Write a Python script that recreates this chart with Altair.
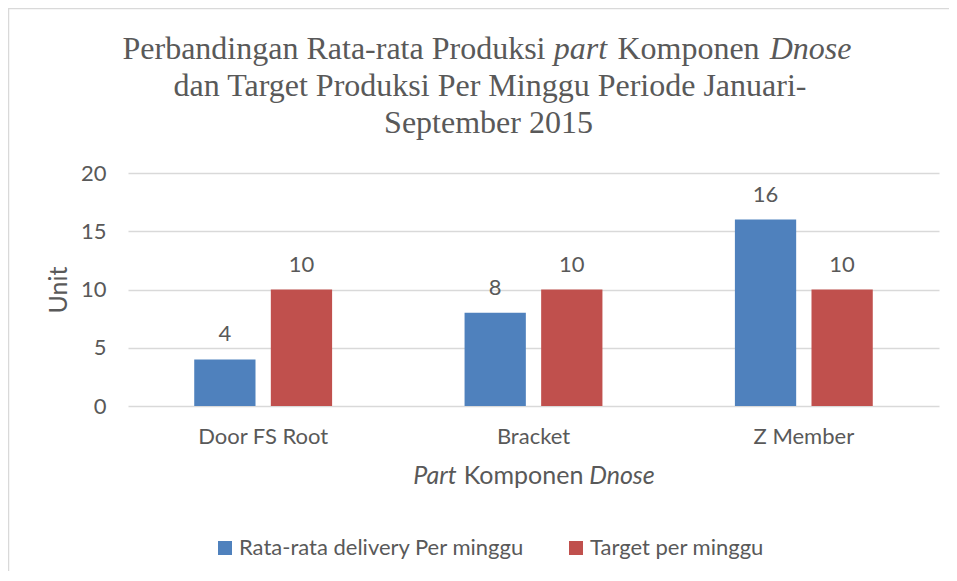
import altair as alt
import pandas as pd

# ---- data ----
categories = ["Door FS Root", "Bracket", "Z Member"]
series = ["Rata-rata delivery Per minggu", "Target per minggu"]
avg_delivery = [4, 8, 16]
target = [10, 10, 10]
y_ticks = [0, 5, 10, 15, 20]

rows = []
for i, c in enumerate(categories):
    rows.append({"part": c, "series": series[0], "unit": avg_delivery[i]})
    rows.append({"part": c, "series": series[1], "unit": target[i]})
df = pd.DataFrame(rows)

colors = ["#4f81bd", "#c0504d"]
GRAY = "#595959"
SANS = "Lato"
SERIF = "Liberation Serif"
W, H = 811, 233
FS = 22

base = alt.Chart(df).encode(
    x=alt.X("part:N", sort=categories,
            scale=alt.Scale(paddingInner=0.49, paddingOuter=0.245),
            axis=alt.Axis(title=None, labelAngle=0, labelFontSize=FS, labelFont=SANS,
                          labelColor=GRAY, labelPadding=20, domain=False, ticks=False,
                          grid=False)),
    xOffset=alt.XOffset("series:N", sort=series,
                        scale=alt.Scale(paddingInner=0.2, paddingOuter=0)),
    y=alt.Y("unit:Q", scale=alt.Scale(domain=[0, 20], nice=False),
            axis=alt.Axis(values=y_ticks, title="Unit", titleFont=SANS, titleFontSize=25,
                          titleFontWeight="normal", titleColor=GRAY, titlePadding=9,
                          labelFont=SANS, labelFontSize=FS, labelColor=GRAY,
                          labelPadding=22, domain=False, ticks=False,
                          gridColor="#d9d9d9", gridWidth=1.5)),
)

bars = base.mark_bar().encode(
    color=alt.Color("series:N", sort=series,
                    scale=alt.Scale(domain=series, range=colors),
                    legend=alt.Legend(title=None, orient="none", legendX=86, legendY=364,
                                      direction="horizontal", symbolType="square",
                                      symbolSize=196, symbolStrokeWidth=0,
                                      labelFont=SANS, labelFontSize=FS, labelColor=GRAY,
                                      labelOffset=3, labelLimit=0, columnPadding=40,
                                      padding=0))
)

labels = base.mark_text(dy=-18, baseline="alphabetic", fontSize=FS, font=SANS,
                        color=GRAY).encode(text="unit:Q")


def seg(text, x, y, size, font, italic=False, align="center"):
    return alt.Chart(alt.Data(values=[{"k": 0}])).mark_text(
        text=text, fontSize=size, font=font, color=GRAY, align=align,
        baseline="alphabetic", fontStyle="italic" if italic else "normal"
    ).encode(x=alt.value(x), y=alt.value(y))


TS = 32
title_parts = [
    seg("Perbandingan Rata-rata Produksi", 206, -114, TS, SERIF),
    seg("part", 452.5, -114, TS, SERIF, italic=True),
    seg("Komponen", 560.5, -114, TS, SERIF),
    seg("Dnose", 682.5, -114, TS, SERIF, italic=True),
    seg("dan Target Produksi Per Minggu Periode Januari-", 362, -77, TS, SERIF),
    seg("September 2015", 360.5, -40, TS, SERIF),
]

xtitle_parts = [
    seg("Part", 307, 311, 25, SANS, italic=True),
    seg("Komponen", 395.5, 311, 25, SANS),
    seg("Dnose", 494, 311, 25, SANS, italic=True),
]

border = alt.Chart(alt.Data(values=[{"k": 0}])).mark_rect(
    fill="white", fillOpacity=0, stroke="#d9d9d9", strokeWidth=1.5
).encode(x=alt.value(-119.5), x2=alt.value(1200), y=alt.value(-164.5), y2=alt.value(1200))

chart = alt.layer(bars, labels, *title_parts, *xtitle_parts, border).properties(
    width=W, height=H,
    autosize=alt.AutoSizeParams(type="none"),
    padding={"left": 120, "top": 165, "right": 10, "bottom": 165},
    background="white",
).configure_view(stroke=None)

chart.save("out.html", embed_options={"renderer": "svg", "actions": False})
